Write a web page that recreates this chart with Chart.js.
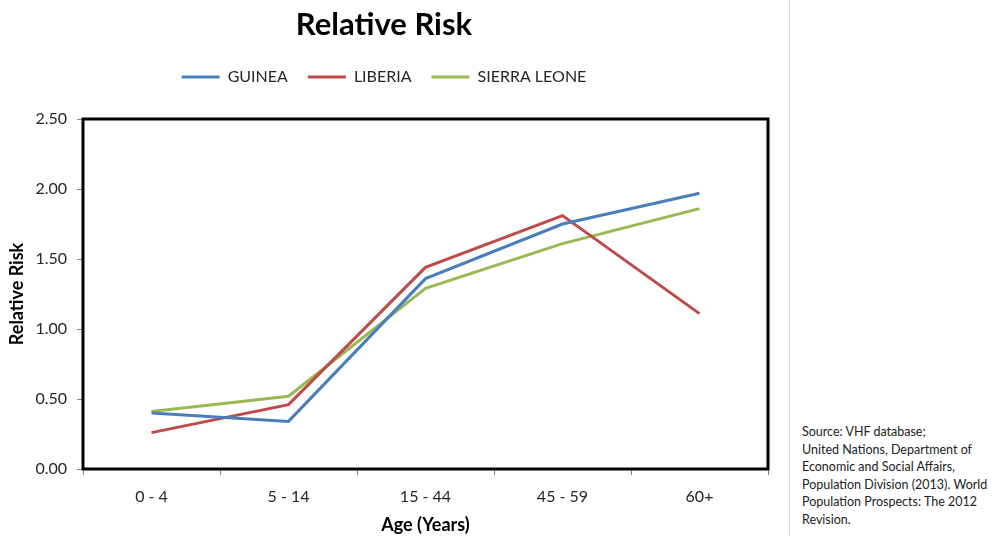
<!DOCTYPE html>
<html>
<head>
<meta charset="utf-8">
<script src="https://cdn.jsdelivr.net/npm/chart.js@4.4.0/dist/chart.umd.min.js"></script>
<style>
    body { margin: 0; background: #fff; font-family: Lato, sans-serif; }
    #wrap { position: relative; width: 1001px; height: 536px; }
    #chartBox { position: absolute; left: 0; top: 0; width: 788px; height: 536px; }
    #sep { position: absolute; left: 789px; top: 0; width: 1px; height: 536px; background: #d9d9d9; }
    #fonte { position: absolute; left: 802px; top: 423px; font-size: 12.5px; line-height: 17.6px; color: #222; }
</style>
</head>
<body>
<div id="wrap">
    <div id="chartBox"><canvas id="riscoChart"></canvas></div>
    <div id="sep"></div>
    <div id="fonte">Source: VHF database;<br>United Nations, Department of<br>Economic and Social Affairs,<br>Population Division (2013). World<br>Population Prospects: The 2012<br>Revision.</div>
</div>
<script>
const faixasEtarias = ['0 - 4', '5 - 14', '15 - 44', '45 - 59', '60+'];
const guinea = [0.40, 0.34, 1.36, 1.75, 1.97];
const liberia = [0.26, 0.46, 1.44, 1.81, 1.11];
const sierraLeone = [0.41, 0.52, 1.29, 1.61, 1.86];
const ticksY = [0, 0.5, 1, 1.5, 2, 2.5];

const fonte = 'Lato, sans-serif';

// moldura preta em volta da area do grafico
const moldura = {
    id: 'moldura',
    afterDatasetsDraw(chart) {
        const a = chart.chartArea;
        const ctx = chart.ctx;
        ctx.save();
        ctx.strokeStyle = '#000';
        ctx.lineWidth = 3;
        ctx.strokeRect(a.left, a.top, a.right - a.left, a.bottom - a.top);
        ctx.restore();
    }
};

// espaco extra abaixo da legenda
const margemLegenda = {
    id: 'margemLegenda',
    beforeInit(chart) {
        const fitOriginal = chart.legend.fit;
        chart.legend.fit = function() {
            fitOriginal.bind(chart.legend)();
            this.height += 24;
        };
    }
};

new Chart(document.getElementById('riscoChart').getContext('2d'), {
    type: 'line',
    data: {
        labels: faixasEtarias,
        datasets: [
            { label: 'GUINEA', data: guinea, borderColor: '#4a7ebb', backgroundColor: '#4a7ebb', borderWidth: 3, pointRadius: 0, tension: 0 },
            { label: 'LIBERIA', data: liberia, borderColor: '#be4b48', backgroundColor: '#be4b48', borderWidth: 3, pointRadius: 0, tension: 0 },
            { label: 'SIERRA LEONE', data: sierraLeone, borderColor: '#98b954', backgroundColor: '#98b954', borderWidth: 3, pointRadius: 0, tension: 0 }
        ]
    },
    options: {
        responsive: true,
        maintainAspectRatio: false,
        animation: false,
        layout: { padding: { top: 0, right: 20, bottom: 0, left: 0 } },
        scales: {
            x: {
                offset: true,
                grid: { offset: true, drawOnChartArea: false, tickLength: 6, color: '#888' },
                border: { display: false },
                ticks: { color: '#262626', padding: 12, font: { family: fonte, size: 16 } },
                title: { display: true, text: 'Age (Years)', color: '#000', padding: { top: 0, bottom: 0.2 }, font: { family: fonte, size: 18, weight: 'bold' } },
                afterFit: function(scale) { scale.height = 67; }
            },
            y: {
                min: 0,
                max: 2.5,
                afterBuildTicks: function(scale) { scale.ticks = ticksY.map(v => ({ value: v })); },
                grid: { drawOnChartArea: false, tickLength: 6, color: '#888' },
                border: { display: false },
                ticks: {
                    color: '#262626', padding: 10, font: { family: fonte, size: 16 },
                    callback: v => v.toFixed(2)
                },
                title: { display: true, text: 'Relative Risk', color: '#000', padding: { top: 6.2, bottom: 0 }, font: { family: fonte, size: 18, weight: 'bold' } },
                afterFit: function(scale) { scale.width = 83; }
            }
        },
        plugins: {
            title: {
                display: true,
                text: 'Relative Risk',
                color: '#000',
                padding: { top: 6.4, bottom: 5.4 },
                font: { family: fonte, size: 31, weight: 'bold' }
            },
            legend: {
                labels: {
                    usePointStyle: true,
                    pointStyle: 'line',
                    pointStyleWidth: 38,
                    boxWidth: 38,
                    padding: 20,
                    color: '#262626',
                    font: { family: fonte, size: 16 }
                }
            },
            tooltip: { enabled: false }
        }
    },
    plugins: [moldura, margemLegenda]
});
</script>
</body>
</html>
